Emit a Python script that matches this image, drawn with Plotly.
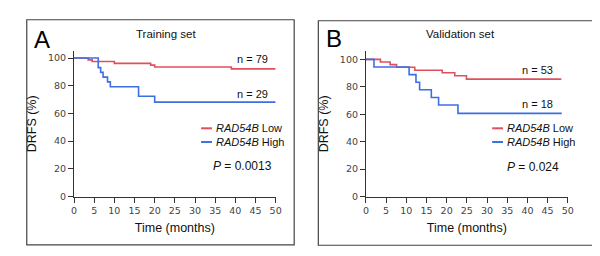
import plotly.graph_objects as go

# ---- data (Kaplan-Meier step points: time in months, survival %) ----
a_low_t = [0, 3.5, 4.5, 10, 19, 20, 39, 50]
a_low_s = [100, 98.7, 97.5, 96.2, 94.9, 93.6, 92.2, 92.2]
a_high_t = [0, 6, 6.6, 7.2, 8.3, 9, 16, 20, 50]
a_high_s = [100, 93.1, 89.7, 86.2, 82.8, 79.3, 72.4, 68.2, 68.2]

b_low_t = [0, 3.6, 6, 7.6, 12.1, 18.9, 22, 24.9, 48.4]
b_low_s = [100, 98.1, 96.2, 94.3, 92.1, 90.2, 88.1, 85.6, 85.6]
b_high_t = [0, 2, 10.7, 12.4, 13.3, 16.2, 18, 22.8, 48.5]
b_high_s = [100, 94.4, 88.9, 83.3, 77.8, 72.2, 66.7, 60.6, 60.6]

x_ticks = [0, 5, 10, 15, 20, 25, 30, 35, 40, 45, 50]
y_ticks = [0, 20, 40, 60, 80, 100]

RED = "#e0505c"
BLUE = "#3d6fe3"
FONT = "Liberation Sans, Arial, sans-serif"

fig = go.Figure()

def add_curve(t, s, color, xa, ya):
    fig.add_trace(go.Scatter(x=t, y=s, mode="lines", line=dict(color=color, width=1.6, shape="hv"),
                             xaxis=xa, yaxis=ya, showlegend=False, hoverinfo="skip"))

add_curve(a_low_t, a_low_s, RED, "x", "y")
add_curve(a_high_t, a_high_s, BLUE, "x", "y")
add_curve(b_low_t, b_low_s, RED, "x2", "y2")
add_curve(b_high_t, b_high_s, BLUE, "x2", "y2")

W, H = 600, 256
def px(x): return x / W
def py(y): return 1 - y / H

axis_common = dict(showgrid=False, zeroline=False, showline=True, linecolor="#333333", linewidth=1,
                   ticks="outside", ticklen=5, tickcolor="#333333",
                   tickfont=dict(family="DejaVu Sans, Verdana, sans-serif", size=9.5, color="#444444"))

ttl_font = dict(family=FONT, size=12.5, color="#111111")
ydom = [py(192.3), py(44)]
fig.update_layout(
    width=W, height=H, margin=dict(l=0, r=0, t=0, b=0),
    paper_bgcolor="white", plot_bgcolor="white",
    xaxis=dict(domain=[px(64), px(268.7)], range=[0, 50], tickvals=x_ticks, anchor="y",
               title=dict(text="Time (months)", font=ttl_font, standoff=8), **axis_common),
    yaxis=dict(domain=ydom, range=[0, 105], tickvals=y_ticks, anchor="x",
               title=dict(text="DRFS (%)", font=ttl_font, standoff=8), **axis_common),
    xaxis2=dict(domain=[px(360.3), px(565.3)], range=[0, 50], tickvals=x_ticks, anchor="y2",
                title=dict(text="Time (months)", font=ttl_font, standoff=8), **axis_common),
    yaxis2=dict(domain=ydom, range=[0, 106], tickvals=y_ticks, anchor="x2",
                title=dict(text="DRFS (%)", font=ttl_font, standoff=8), **axis_common),
)

# panel frames
for x0, x1, y0, y1 in [(16, 287.5, 12, 241.5), (312, 595, 13, 242)]:
    fig.add_shape(type="rect", xref="paper", yref="paper", x0=px(x0), x1=px(x1), y0=py(y1), y1=py(y0),
                  line=dict(color="#444444", width=1.2), fillcolor="rgba(0,0,0,0)")

def txt(x, y, s, size=10, anchor="center", color="#111111", family=FONT):
    fig.add_annotation(xref="paper", yref="paper", x=px(x), y=py(y), text=s, showarrow=False,
                       xanchor=anchor, yanchor="middle", font=dict(family=family, size=size, color=color))

# panel letters and titles
txt(21, 32, "A", size=24, anchor="left", color="#000000")
txt(318, 31, "B", size=24, anchor="left", color="#000000")
txt(157, 27, "Training set", size=11.5)
txt(456, 27, "Validation set", size=11.5)

# n labels
txt(263, 52, "n = 79", size=11, anchor="right")
txt(263, 88, "n = 29", size=11, anchor="right")
txt(552, 63, "n = 53", size=11, anchor="right")
txt(552, 98, "n = 18", size=11, anchor="right")

# legends
for lx, tx in [(193, 206), (488.5, 501.5)]:
    for yy, col, lab in [(122.7, RED, "<i>RAD54B</i> Low"), (136.7, BLUE, "<i>RAD54B</i> High")]:
        fig.add_shape(type="line", xref="paper", yref="paper", x0=px(lx), x1=px(lx + 11), y0=py(yy), y1=py(yy),
                      line=dict(color=col, width=2))
        txt(tx, yy, lab, size=11, anchor="left")

txt(267.5, 161, "<i>P</i> = 0.0013", size=12, anchor="right")
txt(558.5, 162, "<i>P</i> = 0.024", size=12, anchor="right")

fig.write_html("out.html")
